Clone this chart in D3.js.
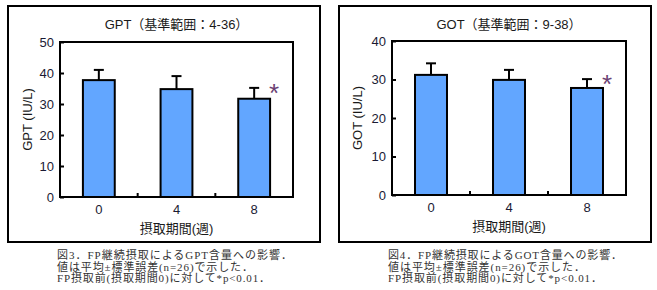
<!DOCTYPE html>
<html>
<head>
<meta charset="utf-8">
<script src="https://cdn.jsdelivr.net/npm/d3@7"></script>
<style>
  body { margin: 0; background: #fff; }
  svg text { font-family: "Liberation Sans", Arial, "Noto Sans CJK JP", sans-serif; }
  .cap { font-family: "Liberation Serif", "Noto Sans CJK JP", serif; font-size: 11px; fill: #333; }
</style>
</head>
<body>
<div id="chart"></div>
<script>
// categories (weeks)
var weeks = ["0", "4", "8"];

// GPT
var gptMean = [37.7, 34.8, 31.7];
var gptErr  = [3.3, 4.2, 3.5];
var gptTicks = [0, 10, 20, 30, 40, 50];

// GOT
var gotMean = [31.2, 29.9, 27.8];
var gotErr  = [3.0, 2.6, 2.3];
var gotTicks = [0, 10, 20, 30, 40];

var svg = d3.select("#chart").append("svg")
    .attr("width", 657)
    .attr("height", 290);

function drawPanel(opt) {
    /* one boxed bar chart with error bars and caption */
    var g = svg.append("g").attr("transform", "translate(" + opt.x0 + ",0)");

    // outer frame
    g.append("rect")
        .attr("x", 1).attr("y", 6)
        .attr("width", 312).attr("height", 236)
        .attr("fill", "none").attr("stroke", "#000").attr("stroke-width", 2);

    var left = opt.left, right = opt.right, top = opt.top, bottom = opt.bottom;

    var x = d3.scaleBand().domain(weeks).range([left, right]);
    var y = d3.scaleLinear().domain([0, d3.max(opt.ticks)]).range([bottom, top]);

    // plot area frame
    g.append("rect")
        .attr("x", left).attr("y", top)
        .attr("width", right - left).attr("height", bottom - top)
        .attr("fill", "none").attr("stroke", "#000").attr("stroke-width", 2);

    // y axis, ticks pointing inside
    var yAxis = g.append("g")
        .attr("transform", "translate(" + left + ",0)")
        .call(d3.axisRight(y).tickValues(opt.ticks).tickSize(4).tickFormat(""));
    yAxis.select(".domain").remove();
    yAxis.selectAll("line").attr("stroke", "#000").attr("stroke-width", 2);

    g.selectAll(".ylab").data(opt.ticks).enter().append("text")
        .attr("x", left - 6)
        .attr("y", function(d) { return y(d); })
        .attr("dy", "0.35em")
        .attr("text-anchor", "end")
        .style("font-size", "13px")
        .attr("fill", "#1a1a33")
        .text(function(d) { return d; });

    // x ticks between categories, pointing up
    var seps = weeks.slice(1).map(function(w) { return x(w); });
    g.selectAll(".xsep").data(seps).enter().append("line")
        .attr("x1", function(d) { return d; }).attr("x2", function(d) { return d; })
        .attr("y1", bottom).attr("y2", bottom - 4)
        .attr("stroke", "#000").attr("stroke-width", 2);

    g.selectAll(".xlab").data(weeks).enter().append("text")
        .attr("x", function(d) { return x(d) + x.bandwidth() / 2; })
        .attr("y", bottom + 17)
        .attr("text-anchor", "middle")
        .style("font-size", "13px")
        .attr("fill", "#1a1a33")
        .text(function(d) { return d; });

    var bw = x.bandwidth() * 0.41;

    // error bars (upper only)
    g.selectAll(".err").data(weeks).enter().append("line")
        .attr("x1", function(d) { return x(d) + x.bandwidth() / 2; })
        .attr("x2", function(d) { return x(d) + x.bandwidth() / 2; })
        .attr("y1", function(d, i) { return y(opt.mean[i]); })
        .attr("y2", function(d, i) { return y(opt.mean[i] + opt.err[i]); })
        .attr("stroke", "#000").attr("stroke-width", 2);
    g.selectAll(".cap-line").data(weeks).enter().append("line")
        .attr("x1", function(d) { return x(d) + x.bandwidth() / 2 - 5; })
        .attr("x2", function(d) { return x(d) + x.bandwidth() / 2 + 5; })
        .attr("y1", function(d, i) { return y(opt.mean[i] + opt.err[i]); })
        .attr("y2", function(d, i) { return y(opt.mean[i] + opt.err[i]); })
        .attr("stroke", "#000").attr("stroke-width", 2);

    // bars
    g.selectAll(".bar").data(weeks).enter().append("rect")
        .attr("x", function(d) { return x(d) + (x.bandwidth() - bw) / 2; })
        .attr("y", function(d, i) { return y(opt.mean[i]); })
        .attr("width", bw)
        .attr("height", function(d, i) { return bottom - y(opt.mean[i]); })
        .attr("fill", "#62a6ff")
        .attr("stroke", "#000").attr("stroke-width", 2);

    // significance mark on last bar
    var last = weeks.length - 1;
    g.append("text")
        .attr("x", x(weeks[last]) + x.bandwidth() / 2 + bw / 2 + 4)
        .attr("y", y(opt.mean[last] + opt.err[last]) + 14)
        .attr("text-anchor", "middle")
        .style("font-size", "26px")
        .attr("fill", "#6b3f73")
        .text("*");

    // title
    g.append("text")
        .attr("x", (left + right) / 2).attr("y", 29)
        .attr("text-anchor", "middle")
        .style("font-size", "13px")
        .attr("fill", "#1a1a1a")
        .text(opt.title);

    // y label
    g.append("text")
        .attr("transform", "translate(" + (opt.ylabX) + "," + ((top + bottom) / 2) + ") rotate(-90)")
        .attr("text-anchor", "middle")
        .style("font-size", "13px")
        .attr("fill", "#1a1a1a")
        .text(opt.ylabel);

    // x label
    g.append("text")
        .attr("x", (left + right) / 2).attr("y", bottom + 36)
        .attr("text-anchor", "middle")
        .style("font-size", "13px")
        .attr("fill", "#1a1a1a")
        .text("摂取期間(週)");

    // caption, stretched only when narrower than the original line
    g.selectAll(".captxt").data(opt.caption).enter().append("text")
        .attr("class", "cap")
        .attr("x", opt.capX)
        .attr("y", function(d, i) { return 259 + i * 11.5; })
        .text(function(d) { return d; })
        .each(function(d, i) {
            if (this.getComputedTextLength() < opt.capW[i]) {
                d3.select(this)
                    .attr("textLength", opt.capW[i])
                    .attr("lengthAdjust", "spacing");
            }
        });
}

drawPanel({
    x0: 7, left: 53, right: 286, top: 42, bottom: 197, ylabX: 25,
    ticks: gptTicks, mean: gptMean, err: gptErr,
    title: "GPT（基準範囲：4-36）", ylabel: "GPT (IU/L)",
    capX: 50, capW: [235, 196, 213],
    caption: ["図3．FP継続摂取によるGPT含量への影響．",
              "値は平均±標準誤差(n=26)で示した．",
              "FP摂取前(摂取期間0)に対して*p<0.01．"]
});

drawPanel({
    x0: 338, left: 54, right: 288, top: 41, bottom: 195, ylabX: 24,
    ticks: gotTicks, mean: gotMean, err: gotErr,
    title: "GOT（基準範囲：9-38）", ylabel: "GOT (IU/L)",
    capX: 50, capW: [234, 197, 214],
    caption: ["図4．FP継続摂取によるGOT含量への影響．",
              "値は平均±標準誤差(n=26)で示した．",
              "FP摂取前(摂取期間0)に対して*p<0.01．"]
});
</script>
</body>
</html>
